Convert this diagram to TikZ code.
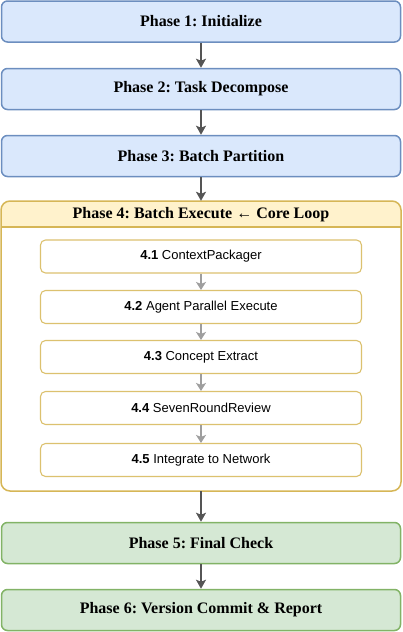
\documentclass[tikz,border=0pt]{standalone}
\usepackage{fontspec}
\setmainfont{Liberation Serif}
\newfontfamily\arialf{Liberation Sans}
\usetikzlibrary{arrows.meta}
\frenchspacing
\definecolor{bluefill}{HTML}{DAE8FC}
\definecolor{bluestroke}{HTML}{6C8EBF}
\definecolor{yelfill}{HTML}{FFF2CC}
\definecolor{yelstroke}{HTML}{D6B656}
\definecolor{grnfill}{HTML}{D5E8D4}
\definecolor{grnstroke}{HTML}{82B366}
\definecolor{arrdark}{HTML}{555555}
\definecolor{arrlight}{HTML}{9E9E9E}
\begin{document}
\begin{tikzpicture}[x=1pt,y=-1pt,
  phase/.style={draw, line width=1.5pt, rounded corners=6pt, minimum width=399pt, minimum height=41pt, inner sep=0pt, font=\bfseries\fontsize{16}{18}\selectfont},
  bphase/.style={phase, draw=bluestroke, fill=bluefill},
  gphase/.style={phase, draw=grnstroke, fill=grnfill},
  subbox/.style={draw=yelstroke!85, line width=1.1pt, fill=white, rounded corners=5pt, minimum width=321pt, minimum height=33pt, inner sep=0pt, font=\arialf\fontsize{13}{15}\selectfont},
  darr/.style={draw=arrdark, line width=2pt, -{Stealth[length=9pt,width=10pt,inset=2pt]}},
  larr/.style={draw=arrlight, line width=2pt, -{Stealth[length=8pt,width=10pt,inset=2pt]}}]
\useasboundingbox (0,0) rectangle (402,632);
% phases 1-3
\node[bphase] (p1) at (201,21.5) {Phase 1: Initialize};
\node[bphase] (p2) at (201,89) {Phase 2: Task Decompose};
\node[bphase] (p3) at (201,156) {Phase 3: Batch Partition};
% phase 4 container
\node[draw=none, fill=white, rounded corners=9pt, minimum width=400pt, minimum height=290pt, inner sep=0pt] (p4) at (201,346) {};
\begin{scope}
  \clip (0,200) rectangle (402,227);
  \fill[yelfill, rounded corners=9pt] (1,201) rectangle (401,491);
\end{scope}
\draw[yelstroke, line width=1.5pt, rounded corners=9pt] (1,201) rectangle (401,491);
\draw[yelstroke, line width=1.2pt] (1,227) -- (401,227);
\node[font=\bfseries\fontsize{16}{18}\selectfont] (p4h) at (201,215) {Phase 4: Batch Execute ← Core Loop};
% sub steps
\node[subbox] (s1) at (201,256.5) {\textbf{4.1} ContextPackager};
\node[subbox] (s2) at (201,307) {\textbf{4.2} Agent Parallel Execute};
\node[subbox] (s3) at (201,357) {\textbf{4.3} Concept Extract};
\node[subbox] (s4) at (201,408) {\textbf{4.4} SevenRoundReview};
\node[subbox] (s5) at (201,460) {\textbf{4.5} Integrate to Network};
% phases 5-6
\node[gphase] (p5) at (201,543) {Phase 5: Final Check};
\node[gphase] (p6) at (201,610) {Phase 6: Version Commit \& Report};
% arrows
\draw[darr] (p1) -- (p2);
\draw[darr] (p2) -- (p3);
\draw[darr] (p3) -- (p4);
\draw[darr] (p4) -- (p5);
\draw[darr] (p5) -- (p6);
\draw[larr] (s1) -- (s2);
\draw[larr] (s2) -- (s3);
\draw[larr] (s3) -- (s4);
\draw[larr] (s4) -- (s5);
\end{tikzpicture}
\end{document}
